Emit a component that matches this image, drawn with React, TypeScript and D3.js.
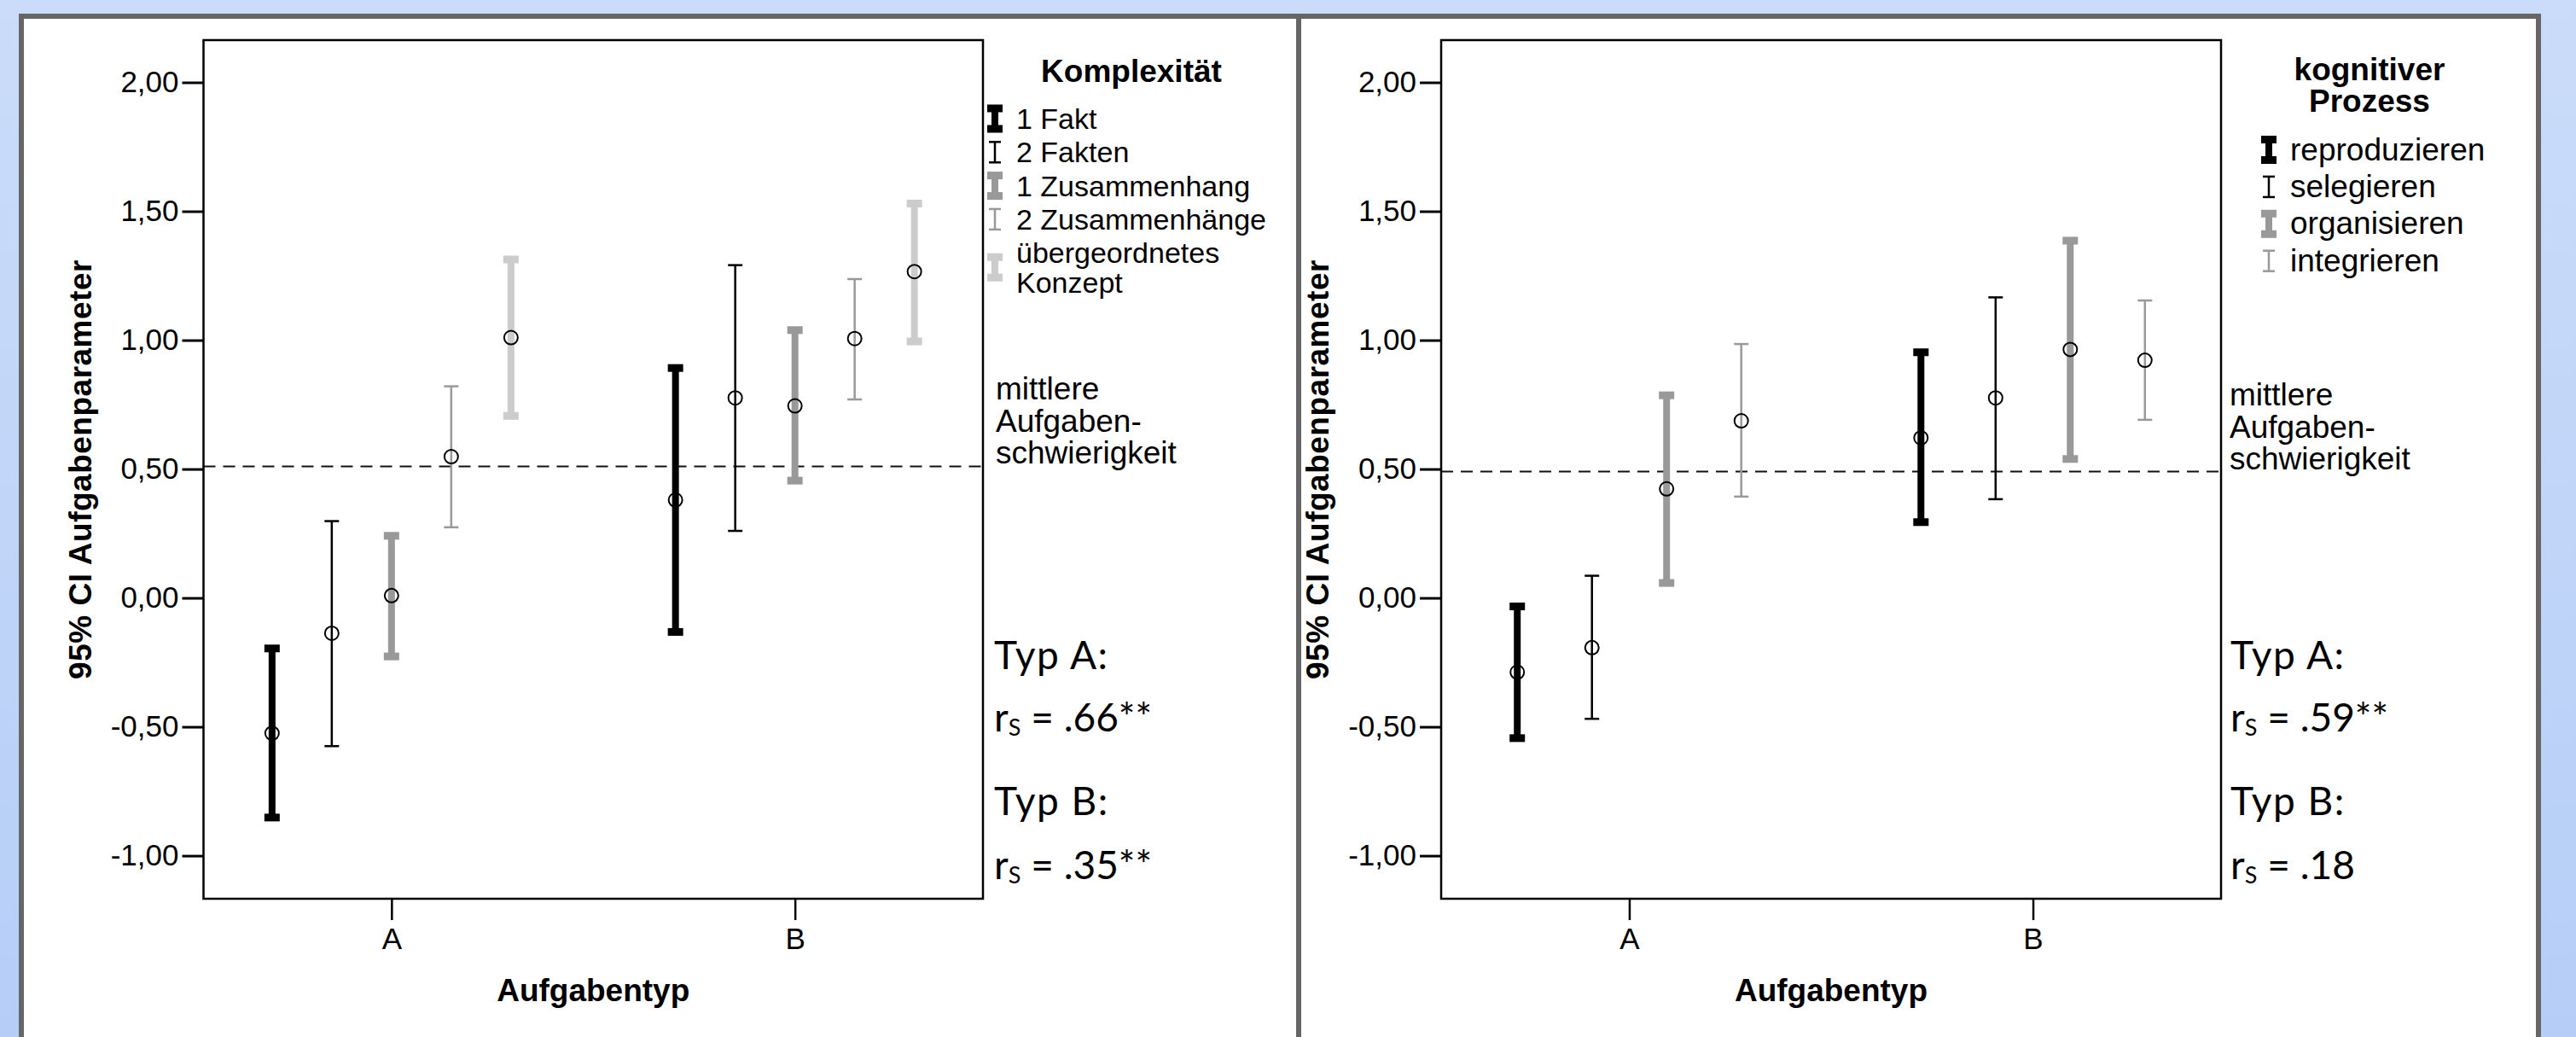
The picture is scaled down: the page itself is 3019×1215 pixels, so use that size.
import React, { useEffect, useRef } from 'react';
import * as d3 from 'd3';

// shared axis data
const categories = ['A', 'B'];
const yTickValues = [-1, -0.5, 0, 0.5, 1, 1.5, 2];

// left panel: Komplexität
const komplexSeries = ['1 Fakt', '2 Fakten', '1 Zusammenhang', '2 Zusammenhänge', 'übergeordnetes Konzept'];
const komplexMeanA = [-0.525, -0.137, 0.009, 0.548, 1.01];
const komplexLowA = [-0.852, -0.575, -0.227, 0.274, 0.706];
const komplexHighA = [-0.196, 0.298, 0.241, 0.821, 1.313];
const komplexMeanB = [0.38, 0.776, 0.745, 1.006, 1.266];
const komplexLowB = [-0.132, 0.26, 0.455, 0.77, 0.995];
const komplexHighB = [0.892, 1.291, 1.039, 1.237, 1.53];
const komplexMittel = 0.51;
const komplexRs = ['.66**', '.35**'];

// right panel: kognitiver Prozess
const prozessSeries = ['reproduzieren', 'selegieren', 'organisieren', 'integrieren'];
const prozessMeanA = [-0.288, -0.193, 0.423, 0.687];
const prozessLowA = [-0.544, -0.469, 0.058, 0.393];
const prozessHighA = [-0.033, 0.086, 0.786, 0.985];
const prozessMeanB = [0.621, 0.776, 0.964, 0.922];
const prozessLowB = [0.294, 0.383, 0.539, 0.691];
const prozessHighB = [0.953, 1.166, 1.386, 1.154];
const prozessMittel = 0.49;
const prozessRs = ['.59**', '.18'];

const barStyles = [
  { color: '#000', thick: true },
  { color: '#000', thick: false },
  { color: '#999', thick: true },
  { color: '#999', thick: false },
  { color: '#ccc', thick: true },
];

const ARIAL = "'Liberation Sans', Arial, sans-serif";
const GOTHIC = "Lato, 'Open Sans', sans-serif";

const W = 3019;
const H = 1215;
const plotTop = 47;
const plotBottom = 1053;

const numFmt = d3
  .formatLocale({ decimal: ',', thousands: '.', grouping: [3], currency: ['', ''], minus: '-' })
  .format('.2f');

const ErrorBar = ({ x, yLo, yHi, style, capW }) => {
  if (style.thick) {
    return (
      <g fill={style.color}>
        <rect x={x - 4} y={yHi} width={8} height={yLo - yHi} />
        <rect x={x - 9} y={yHi - 4.5} width={18} height={9} />
        <rect x={x - 9} y={yLo - 4.5} width={18} height={9} />
      </g>
    );
  }
  return (
    <g stroke={style.color} strokeWidth={2.5}>
      <line x1={x} x2={x} y1={yHi} y2={yLo} />
      <line x1={x - capW / 2} x2={x + capW / 2} y1={yHi} y2={yHi} />
      <line x1={x - capW / 2} x2={x + capW / 2} y1={yLo} y2={yLo} />
    </g>
  );
};

const Panel = (props) => {
  const { x0, x1, series, meanA, lowA, highA, meanB, lowB, highB, mittel, rs, lay } = props;
  const yAxisRef = useRef(null);
  const xAxisRef = useRef(null);

  const xScale = d3.scalePoint().domain(categories).range([x0, x1]).padding(0.466);
  const inner = d3.scaleBand().domain(series).range([-175, 175]);
  const yScale = d3.scaleLinear().domain([-1.167, 2.164]).range([plotBottom, plotTop]);

  useEffect(() => {
    const yAxis = d3.axisLeft(yScale).tickValues(yTickValues).tickFormat(numFmt).tickSize(25).tickPadding(4);
    d3.select(yAxisRef.current)
      .call(yAxis)
      .attr('font-size', 35)
      .attr('font-family', ARIAL)
      .call((g) => g.select('.domain').remove())
      .call((g) => g.selectAll('.tick line').attr('stroke-width', 3))
      .call((g) => g.selectAll('.tick text').attr('fill', '#000'));

    const xAxis = d3.axisBottom(xScale).tickSize(25).tickPadding(9);
    d3.select(xAxisRef.current)
      .call(xAxis)
      .attr('font-size', 35)
      .attr('font-family', ARIAL)
      .call((g) => g.select('.domain').remove())
      .call((g) => g.selectAll('.tick line').attr('stroke-width', 2.5))
      .call((g) => g.selectAll('.tick text').attr('fill', '#000'));
  }, [x0, x1]);

  const rows = series.map((s, i) => [
    { cat: 'A', mean: meanA[i], lo: lowA[i], hi: highA[i] },
    { cat: 'B', mean: meanB[i], lo: lowB[i], hi: highB[i] },
  ]);

  const midX = (x0 + x1) / 2;
  const midY = (plotTop + plotBottom) / 2;

  return (
    <g>
      {/* mean difficulty line */}
      <line
        x1={x0}
        x2={x1}
        y1={yScale(mittel)}
        y2={yScale(mittel)}
        stroke="#111"
        strokeWidth={2}
        strokeDasharray="14,9"
      />

      {rows.map((pair, i) =>
        pair.map((d) => {
          const cx = xScale(d.cat) + inner(series[i]) + inner.bandwidth() / 2;
          return (
            <g key={series[i] + d.cat}>
              <ErrorBar x={cx} yLo={yScale(d.lo)} yHi={yScale(d.hi)} style={barStyles[i]} capW={17} />
              <circle cx={cx} cy={yScale(d.mean)} r={8} fill="none" stroke="#000" strokeWidth={2} />
            </g>
          );
        })
      )}

      <rect
        x={x0}
        y={plotTop}
        width={x1 - x0}
        height={plotBottom - plotTop}
        fill="none"
        stroke="#000"
        strokeWidth={2.5}
      />
      <g ref={yAxisRef} transform={`translate(${x0},0)`} />
      <g ref={xAxisRef} transform={`translate(0,${plotBottom})`} />

      <text
        transform={`translate(${x0 - 132},${midY}) rotate(-90)`}
        textAnchor="middle"
        fontFamily={ARIAL}
        fontWeight="bold"
        fontSize={37}
        letterSpacing={0.5}
      >
        95% CI Aufgabenparameter
      </text>
      <text x={midX} y={1173} textAnchor="middle" fontFamily={ARIAL} fontWeight="bold" fontSize={37}>
        Aufgabentyp
      </text>

      {/* legend */}
      {lay.title.map((t, j) => (
        <text
          key={t}
          x={lay.titleX}
          y={lay.titleY + j * 36.5}
          textAnchor="middle"
          fontFamily={ARIAL}
          fontWeight="bold"
          fontSize={37}
        >
          {t}
        </text>
      ))}
      {series.map((s, i) => {
        const lines = s.length > 18 ? [s.slice(0, s.lastIndexOf(' ')), s.slice(s.lastIndexOf(' ') + 1)] : [s];
        const by = lay.itemY + i * lay.itemStep;
        const cy = lines.length > 1 ? by + 5 : by - 12;
        return (
          <g key={s}>
            <ErrorBar x={lay.symX} yLo={cy + 12} yHi={cy - 12} style={barStyles[i]} capW={14} />
            <text x={lay.textX} y={by} fontFamily={ARIAL} fontSize={lay.itemFont}>
              {lines.map((l, k) => (
                <tspan key={l} x={lay.textX} dy={k === 0 ? 0 : 34.5}>
                  {l}
                </tspan>
              ))}
            </text>
          </g>
        );
      })}

      <text x={lay.noteX} y={lay.noteY} fontFamily={ARIAL} fontSize={37}>
        <tspan x={lay.noteX} dy={0}>mittlere</tspan>
        <tspan x={lay.noteX} dy={37.5}>Aufgaben-</tspan>
        <tspan x={lay.noteX} dy={37.5}>schwierigkeit</tspan>
      </text>

      {categories.map((c, k) => (
        <g key={c} fontFamily={GOTHIC} fontSize={46}>
          <text x={lay.typX} y={784 + k * 171} letterSpacing={1.5}>
            Typ {c}:
          </text>
          <text x={lay.typX} y={857 + k * 173}>
            r
            <tspan fontSize={27} dy={5}>
              S
            </tspan>
            <tspan dy={-5}> = {rs[k]}</tspan>
          </text>
        </g>
      ))}
    </g>
  );
};

const App = () => {
  useEffect(() => {
    document.body.style.margin = '0';
  }, []);

  return (
    <svg width={W} height={H} style={{ display: 'block' }}>
      <defs>
        <linearGradient id="bg" x1="0" y1="0" x2="0" y2="1">
          <stop offset="0%" stopColor="#cadcf9" />
          <stop offset="100%" stopColor="#b6cef7" />
        </linearGradient>
      </defs>
      <rect width={W} height={H} fill="url(#bg)" />
      <rect x={25} y={19} width={2950} height={1300} fill="#fff" stroke="#666" strokeWidth={6} />
      <line x1={1522} x2={1522} y1={19} y2={H} stroke="#666" strokeWidth={6} />

      <Panel
        x0={238.5}
        x1={1152}
        series={komplexSeries}
        meanA={komplexMeanA}
        lowA={komplexLowA}
        highA={komplexHighA}
        meanB={komplexMeanB}
        lowB={komplexLowB}
        highB={komplexHighB}
        mittel={komplexMittel}
        rs={komplexRs}
        lay={{
          title: ['Komplexität'],
          titleX: 1326,
          titleY: 96,
          symX: 1166,
          textX: 1191,
          itemY: 151,
          itemStep: 39.3,
          itemFont: 34,
          noteX: 1167,
          noteY: 468,
          typX: 1165,
        }}
      />
      <Panel
        x0={1689}
        x1={2603}
        series={prozessSeries}
        meanA={prozessMeanA}
        lowA={prozessLowA}
        highA={prozessHighA}
        meanB={prozessMeanB}
        lowB={prozessLowB}
        highB={prozessHighB}
        mittel={prozessMittel}
        rs={prozessRs}
        lay={{
          title: ['kognitiver', 'Prozess'],
          titleX: 2777,
          titleY: 94,
          symX: 2659,
          textX: 2684,
          itemY: 187.5,
          itemStep: 43.4,
          itemFont: 37,
          noteX: 2613,
          noteY: 475,
          typX: 2614,
        }}
      />
    </svg>
  );
};

export default App;
